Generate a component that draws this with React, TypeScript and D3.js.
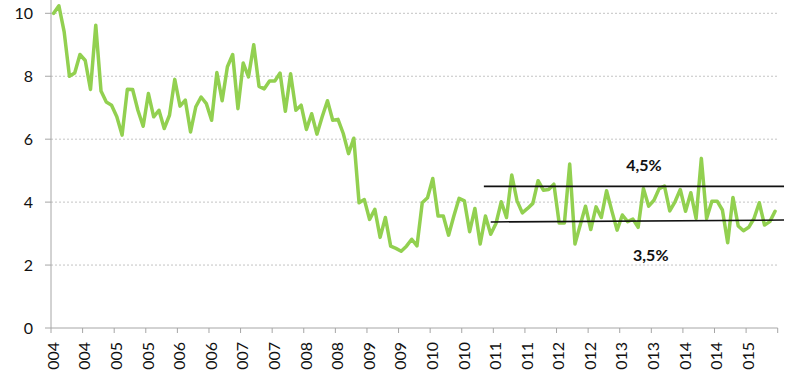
import React from "react";
import * as d3 from "d3";

const values: number[] = [
  10.0, 10.24, 9.41, 8.0, 8.1, 8.69, 8.5, 7.58, 9.62, 7.53, 7.18, 7.08,
  6.71, 6.13, 7.59, 7.58, 6.92, 6.41, 7.45, 6.71, 6.92, 6.34, 6.76, 7.9,
  7.05, 7.24, 6.23, 7.03, 7.34, 7.13, 6.6, 8.12, 7.22, 8.3, 8.69, 6.97,
  8.42, 7.98, 9.0, 7.68, 7.6, 7.85, 7.85, 8.1, 6.89, 8.08, 6.92, 7.08,
  6.31, 6.81, 6.16, 6.71, 7.22, 6.6, 6.63, 6.18, 5.54, 6.03, 3.98, 4.08,
  3.45, 3.77, 2.88, 3.51, 2.6, 2.53, 2.44, 2.6, 2.82, 2.61, 3.98, 4.14,
  4.75, 3.56, 3.56, 2.95, 3.56, 4.12, 4.04, 3.06, 3.8, 2.67, 3.56, 2.98,
  3.32, 4.01, 3.51, 4.86, 4.04, 3.66, 3.8, 3.96, 4.68, 4.38, 4.4, 4.57,
  3.34, 3.34, 5.21, 2.67, 3.27, 3.87, 3.13, 3.85, 3.51, 4.36, 3.72, 3.11,
  3.59, 3.38, 3.46, 3.2, 4.43, 3.87, 4.06, 4.43, 4.51, 3.72, 4.01, 4.4,
  3.71, 4.3, 3.48, 5.39, 3.48, 4.03, 4.03, 3.75, 2.71, 4.15, 3.24, 3.09,
  3.2, 3.48, 3.98, 3.27, 3.38, 3.71,
];

const xTickLabels: string[] = [
  "2004", "2004", "2005", "2005", "2006", "2006", "2007", "2007",
  "2008", "2008", "2009", "2009", "2010", "2010", "2011", "2011",
  "2012", "2012", "2013", "2013", "2014", "2014", "2015",
];

const yTicks: number[] = [0, 2, 4, 6, 8, 10];

// reference lines: [startMonth, startValue, endMonth, endValue]
const upperBand: number[] = [82.2, 4.5, 139.2, 4.5];
const lowerBand: number[] = [83.5, 3.37, 139.2, 3.43];
const bandLabels: { text: string; month: number; value: number }[] = [
  { text: "4,5%", month: 112.6, value: 5.0 },
  { text: "3,5%", month: 113.9, value: 2.14 },
];

const W = 800;
const H = 370;
const left = 51;
const right = 777.7;
const bottom = 328;
const top10 = 13.3;
const monthsPerTick = 6;

export default function App() {
  const x = d3.scaleLinear().domain([0, values.length]).range([left, right]);
  const y = d3.scaleLinear().domain([0, 10]).range([bottom, top10]);

  const line = d3
    .line<number>()
    .x((_, i) => x(i + 0.5))
    .y((d) => y(d));

  const tickCount = values.length / monthsPerTick;
  const tickMonths = d3.range(0, tickCount + 1).map((k) => k * monthsPerTick);

  const font = "Lato, 'Open Sans', sans-serif";

  return (
    <svg
      width={W}
      height={H}
      style={{ position: "absolute", left: 0, top: 0, background: "#fff" }}
      fontFamily={font}
    >
      {/* grid */}
      {yTicks
        .filter((t) => t > 0)
        .map((t) => (
          <line
            key={"g" + t}
            x1={left}
            x2={right}
            y1={y(t)}
            y2={y(t)}
            stroke="#c4c4c4"
            strokeWidth={1}
            strokeDasharray="2 2"
          />
        ))}
      {/* y axis */}
      <line x1={left} x2={left} y1={0} y2={bottom} stroke="#a6a6a6" strokeWidth={1} />
      {yTicks.map((t) => (
        <g key={"y" + t}>
          <line x1={left - 6} x2={left} y1={y(t)} y2={y(t)} stroke="#a6a6a6" />
          <text
            x={33}
            y={y(t)}
            dy="0.36em"
            textAnchor="end"
            fontSize={16}
            fill="#111"
          >
            {t}
          </text>
        </g>
      ))}
      {/* x axis */}
      <line x1={left} x2={right} y1={bottom} y2={bottom} stroke="#a6a6a6" strokeWidth={1} />
      {tickMonths.map((m) => (
        <line
          key={"xt" + m}
          x1={x(m)}
          x2={x(m)}
          y1={bottom}
          y2={bottom + 5}
          stroke="#a6a6a6"
        />
      ))}
      {xTickLabels.map((lab, k) => {
        const px = x(k * monthsPerTick) + 2;
        const py = 342;
        return (
          <text
            key={"xl" + k}
            transform={`translate(${px},${py}) rotate(-90)`}
            textAnchor="end"
            dy="0.36em"
            fontSize={16}
            fill="#111"
          >
            {lab}
          </text>
        );
      })}
      {/* data line */}
      <path
        d={line(values) || ""}
        fill="none"
        stroke="#92d050"
        strokeWidth={3.5}
        strokeLinejoin="round"
        strokeLinecap="round"
      />
      {/* band lines */}
      {[upperBand, lowerBand].map((b, i) => (
        <line
          key={"b" + i}
          x1={x(b[0])}
          y1={y(b[1])}
          x2={x(b[2])}
          y2={y(b[3])}
          stroke="#111"
          strokeWidth={1.6}
        />
      ))}
      {bandLabels.map((l) => (
        <text
          key={l.text}
          x={x(l.month)}
          y={y(l.value)}
          textAnchor="middle"
          fontSize={16}
          fontWeight="bold"
          fill="#111"
        >
          {l.text}
        </text>
      ))}
    </svg>
  );
}
